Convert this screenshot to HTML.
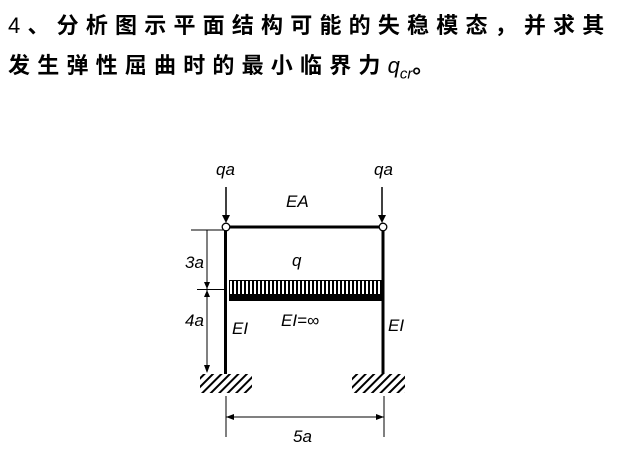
<!DOCTYPE html>
<html><head><meta charset="utf-8"><style>
body{margin:0;width:625px;height:449px;background:#fff;overflow:hidden;position:relative}
.t{position:absolute;left:8px;font-family:"Liberation Sans","Noto Sans CJK SC",sans-serif;font-size:22px;letter-spacing:7.2px;color:#000;white-space:nowrap;font-weight:bold}
</style></head><body>
<div class="t" style="top:8px"><span style="font-weight:normal">4</span>、分析图示平面结构可能的失稳模态，并求其</div>
<div class="t" style="top:48px">发生弹性屈曲时的最小临界力<i style="font-weight:normal;letter-spacing:0">q<sub style="font-size:15px">cr</sub></i>。</div>
<svg width="625" height="449" style="position:absolute;left:0;top:0" font-family="Liberation Sans,sans-serif" font-style="italic" font-size="17">
<defs>
<pattern id="v" width="4" height="20" patternUnits="userSpaceOnUse"><rect x="0" y="0" width="2" height="20" fill="#000"/></pattern>
<pattern id="h" width="6" height="6" patternUnits="userSpaceOnUse" patternTransform="rotate(45)"><rect width="2" height="6" fill="#000"/></pattern>
</defs>
<text x="216" y="175">qa</text><text x="374" y="175">qa</text>
<text x="286" y="207">EA</text>
<text x="292" y="266">q</text>
<text x="185" y="268">3a</text><text x="185" y="326">4a</text>
<text x="232" y="334">EI</text><text x="388" y="331">EI</text>
<text x="281" y="326">EI=∞</text>
<text x="293" y="442">5a</text>
<g stroke="#000" fill="#000">
<line x1="226" y1="187" x2="226" y2="216" stroke-width="1.5"/><polygon points="222,215 230,215 226,223" stroke="none"/>
<line x1="382" y1="187" x2="382" y2="216" stroke-width="1.5"/><polygon points="378,215 386,215 382,223" stroke="none"/>
<line x1="226" y1="227" x2="383" y2="227" stroke-width="3"/>
<line x1="225.5" y1="227" x2="225.5" y2="374" stroke-width="3"/>
<line x1="383" y1="227" x2="383" y2="374" stroke-width="3"/>
<rect x="229" y="281" width="154" height="13" fill="url(#v)" stroke="none"/>
<line x1="229" y1="280.5" x2="383" y2="280.5" stroke-width="1"/>
<rect x="229" y="294" width="155" height="7" stroke="none"/>
<rect x="200" y="374" width="52" height="19" fill="url(#h)" stroke="none"/>
<rect x="352" y="374" width="53" height="19" fill="url(#h)" stroke="none"/>
<g stroke-width="1">
<line x1="191" y1="230" x2="224" y2="230"/>
<line x1="197" y1="289.5" x2="224" y2="289.5"/>
<line x1="207" y1="230" x2="207" y2="372"/>
<line x1="226" y1="396" x2="226" y2="437"/><line x1="384" y1="396" x2="384" y2="437"/>
<line x1="226" y1="417" x2="384" y2="417"/>
</g>
<g stroke="none">
<polygon points="204,282 210,282 207,289"/><polygon points="204,297 210,297 207,290"/>
<polygon points="204,365 210,365 207,373"/>
<polygon points="226,417 234,414 234,420"/><polygon points="384,417 376,414 376,420"/>
</g>
<circle cx="226" cy="227" r="3.8" fill="#fff" stroke-width="1.3"/>
<circle cx="383" cy="227" r="3.8" fill="#fff" stroke-width="1.3"/>
</g>
</svg>
</body></html>
